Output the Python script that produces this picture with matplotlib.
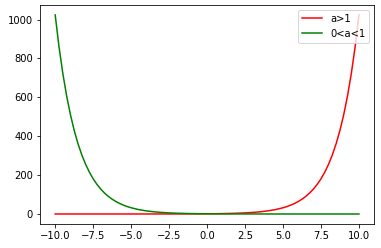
import matplotlib
matplotlib.use('Agg')
import matplotlib.pyplot as plt

# a>1 curve: x positions and values
x_grow = [-10.0, -9.5, -9.0, -8.5, -8.0, -7.5, -7.0, -6.5, -6.0, -5.5, -5.0,
          -4.5, -4.0, -3.5, -3.0, -2.5, -2.0, -1.5, -1.0, -0.5, 0.0,
          0.5, 1.0, 1.5, 2.0, 2.5, 3.0, 3.5, 4.0, 4.5, 5.0,
          5.25, 5.5, 5.75, 6.0, 6.25, 6.5, 6.75, 7.0, 7.25, 7.5, 7.75,
          8.0, 8.25, 8.5, 8.75, 9.0, 9.25, 9.5, 9.75, 10.0]
y_grow = [0.001, 0.0014, 0.002, 0.0028, 0.0039, 0.0055, 0.0078, 0.011, 0.016, 0.022, 0.031,
          0.044, 0.0625, 0.088, 0.125, 0.18, 0.25, 0.35, 0.5, 0.71, 1.0,
          1.41, 2.0, 2.83, 4.0, 5.66, 8.0, 11.3, 16.0, 22.6, 32.0,
          38.1, 45.3, 53.8, 64.0, 76.1, 90.5, 107.6, 128.0, 152.2, 181.0, 215.3,
          256.0, 304.4, 362.0, 430.5, 512.0, 608.9, 724.0, 861.1, 1024.0]

# 0<a<1 curve
x_decay = [-10.0, -9.75, -9.5, -9.25, -9.0, -8.75, -8.5, -8.25, -8.0, -7.75, -7.5,
           -7.25, -7.0, -6.75, -6.5, -6.25, -6.0, -5.75, -5.5, -5.25, -5.0,
           -4.5, -4.0, -3.5, -3.0, -2.5, -2.0, -1.5, -1.0, -0.5, 0.0,
           0.5, 1.0, 1.5, 2.0, 2.5, 3.0, 3.5, 4.0, 4.5, 5.0,
           5.5, 6.0, 6.5, 7.0, 7.5, 8.0, 8.5, 9.0, 9.5, 10.0]
y_decay = [1024.0, 861.1, 724.0, 608.9, 512.0, 430.5, 362.0, 304.4, 256.0, 215.3, 181.0,
           152.2, 128.0, 107.6, 90.5, 76.1, 64.0, 53.8, 45.3, 38.1, 32.0,
           22.6, 16.0, 11.3, 8.0, 5.66, 4.0, 2.83, 2.0, 1.41, 1.0,
           0.71, 0.5, 0.35, 0.25, 0.18, 0.125, 0.088, 0.0625, 0.044, 0.031,
           0.022, 0.016, 0.011, 0.0078, 0.0055, 0.0039, 0.0028, 0.002, 0.0014, 0.001]

fig, ax = plt.subplots(figsize=(381 / 72, 248 / 72), dpi=72)
ax.plot(x_grow, y_grow, color='r', label='a>1')
ax.plot(x_decay, y_decay, color='g', label='0<a<1')
ax.legend(loc='upper right')
fig.subplots_adjust(left=0.105, right=0.982, top=0.98, bottom=0.097)
fig.savefig('out.png', dpi=72)
